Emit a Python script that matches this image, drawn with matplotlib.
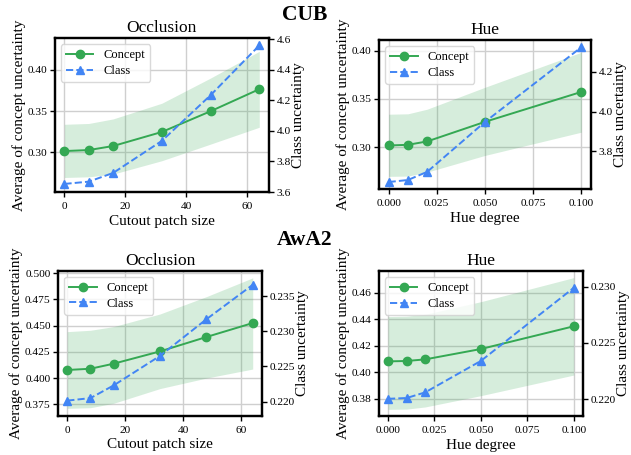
import matplotlib
matplotlib.use("Agg")
import matplotlib.pyplot as plt
from matplotlib.ticker import MultipleLocator, FormatStrFormatter

plt.rcParams['font.family'] = ['Liberation Serif', 'DejaVu Serif']
plt.rcParams['mathtext.fontset'] = 'stix'

# ---- data ----
occ_x = [0, 8, 16, 32, 48, 64]
hue_x = [0.0, 0.01, 0.02, 0.05, 0.1]

cub_occ_concept = [0.3016, 0.3028, 0.3077, 0.3247, 0.3498, 0.3765]
cub_occ_lower = [0.2696, 0.2704, 0.2737, 0.2899, 0.3100, 0.3304]
cub_occ_upper = [0.3340, 0.3350, 0.3405, 0.3595, 0.3900, 0.4223]
cub_occ_class = [3.653, 3.668, 3.725, 3.935, 4.234, 4.560]

cub_hue_concept = [0.3017, 0.3024, 0.3059, 0.3262, 0.3572]
cub_hue_lower = [0.2697, 0.2700, 0.2741, 0.2914, 0.3155]
cub_hue_upper = [0.3341, 0.3345, 0.3393, 0.3620, 0.3983]
cub_hue_class = [3.647, 3.657, 3.698, 3.948, 4.322]

awa_occ_concept = [0.4077, 0.4089, 0.4137, 0.4254, 0.4391, 0.4524]
awa_occ_lower = [0.3712, 0.3718, 0.3760, 0.3900, 0.4000, 0.4086]
awa_occ_upper = [0.4442, 0.4455, 0.4490, 0.4610, 0.4775, 0.4954]
awa_occ_class = [0.22014, 0.2205, 0.2223, 0.2265, 0.2317, 0.2366]

awa_hue_concept = [0.4083, 0.4086, 0.4098, 0.4176, 0.4347]
awa_hue_lower = [0.3722, 0.3724, 0.3740, 0.3825, 0.3980]
awa_hue_upper = [0.4420, 0.4423, 0.4437, 0.4532, 0.4713]
awa_hue_class = [0.22003, 0.2201, 0.2206, 0.2234, 0.2299]

GREEN = '#34a853'
BLUE = '#4285f4'

fig = plt.figure(figsize=(6.31, 4.55), dpi=100)

panels = [
    ([0.0867, 0.578, 0.3396, 0.3385], occ_x, cub_occ_concept, cub_occ_lower, cub_occ_upper, cub_occ_class,
     'Occlusion', 'Cutout patch size', (0.252, 0.4385), (3.6, 4.609), 0.05, 0.2, [0, 20, 40, 60], '%.2f', '%.1f'),
    ([0.6006, 0.5846, 0.336, 0.3275], hue_x, cub_hue_concept, cub_hue_lower, cub_hue_upper, cub_hue_class,
     'Hue', 'Hue degree', (0.2566, 0.411), (3.612, 4.358), 0.05, 0.2, [0, 0.025, 0.05, 0.075, 0.1], '%.2f', '%.1f'),
    ([0.0919, 0.0864, 0.3233, 0.3186], occ_x, awa_occ_concept, awa_occ_lower, awa_occ_upper, awa_occ_class,
     'Occlusion', 'Cutout patch size', (0.3642, 0.5022), (0.2180, 0.2386), 0.025, 0.005, [0, 20, 40, 60], '%.3f', '%.3f'),
    ([0.6002, 0.0857, 0.3237, 0.3187], hue_x, awa_hue_concept, awa_hue_lower, awa_hue_upper, awa_hue_class,
     'Hue', 'Hue degree', (0.3672, 0.4763), (0.2185, 0.2314), 0.02, 0.005, [0, 0.025, 0.05, 0.075, 0.1], '%.2f', '%.3f'),
]

for (rect, x, conc, lo, up, cls, title, xlabel, yl, yr, yloc, rloc, xt, lfmt, rfmt) in panels:
    ax = fig.add_axes(rect)
    ax.set_axisbelow(True)
    ax.grid(True, color='#cfcfcf', linewidth=1.0)
    ax.fill_between(x, lo, up, color=GREEN, alpha=0.2, linewidth=0)
    l1, = ax.plot(x, conc, '-o', color=GREEN, lw=1.4, ms=6, label='Concept')
    ax.set_ylim(*yl)
    ax.yaxis.set_major_locator(MultipleLocator(yloc))
    ax.yaxis.set_major_formatter(FormatStrFormatter(lfmt))
    ax.set_xticks(xt)
    if xt[-1] < 1:
        ax.xaxis.set_major_formatter(FormatStrFormatter('%.3f'))
    ax.set_title(title, fontsize=12.5, pad=4)
    ax.set_xlabel(xlabel, fontsize=11, labelpad=2.5)
    ax.set_ylabel('Average of concept uncertainty', fontsize=11, labelpad=1)
    ax2 = ax.twinx()
    l2, = ax2.plot(x, cls, '--^', color=BLUE, lw=1.4, ms=6, label='Class')
    ax2.set_ylim(*yr)
    ax2.yaxis.set_major_locator(MultipleLocator(rloc))
    ax2.yaxis.set_major_formatter(FormatStrFormatter(rfmt))
    ax2.set_ylabel('Class uncertainty', fontsize=11, labelpad=1)
    for a in (ax, ax2):
        for s in a.spines.values():
            s.set_linewidth(1.6)
            s.set_color('black')
        a.tick_params(labelsize=8.2, length=3.8, width=1.0, direction='out', pad=1.5)
    ax.tick_params(axis='x', pad=3.5)
    ax.legend([l1, l2], ['Concept', 'Class'], loc='upper left', fontsize=9,
              frameon=True, framealpha=0.8, edgecolor='#d0d0d0', borderpad=0.4,
              handlelength=2.2, labelspacing=0.3)

fig.text(0.483, 0.966, 'CUB', ha='center', va='center', fontsize=15.5, fontweight='bold')
fig.text(0.483, 0.472, 'AwA2', ha='center', va='center', fontsize=15.5, fontweight='bold')

fig.savefig('out.png', dpi=100)
